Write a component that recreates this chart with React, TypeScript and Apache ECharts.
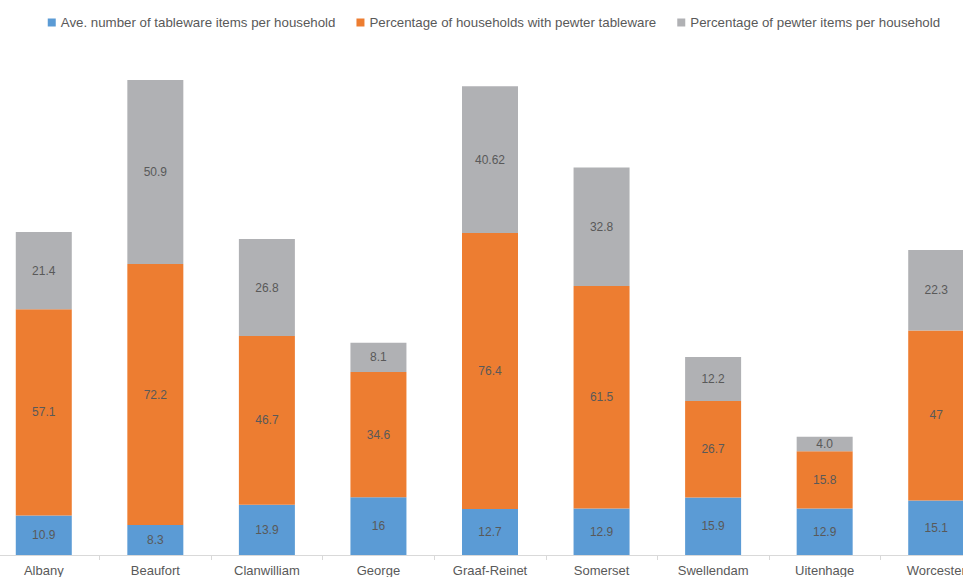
import React, { useEffect, useRef } from "react";
import * as echarts from "echarts";

const categories = ["Albany", "Beaufort", "Clanwilliam", "George", "Graaf-Reinet", "Somerset", "Swellendam", "Uitenhage", "Worcester"];
const seriesNames = [
  "Ave. number of tableware items per household",
  "Percentage of households with pewter tableware",
  "Percentage of pewter items per household",
];
const aveItems = [10.9, 8.3, 13.9, 16, 12.7, 12.9, 15.9, 12.9, 15.1];
const aveItemsLabels = ["10.9", "8.3", "13.9", "16", "12.7", "12.9", "15.9", "12.9", "15.1"];
const pctHouseholds = [57.1, 72.2, 46.7, 34.6, 76.4, 61.5, 26.7, 15.8, 47];
const pctHouseholdsLabels = ["57.1", "72.2", "46.7", "34.6", "76.4", "61.5", "26.7", "15.8", "47"];
const pctPewter = [21.4, 50.9, 26.8, 8.1, 40.62, 32.8, 12.2, 4.0, 22.3];
const pctPewterLabels = ["21.4", "50.9", "26.8", "8.1", "40.62", "32.8", "12.2", "4.0", "22.3"];
const colors = ["#5B9BD5", "#ED7D31", "#B0B1B4"];

export default function App() {
  const ref = useRef<HTMLDivElement>(null);
  useEffect(() => {
    if (!ref.current) return;
    const chart = echarts.init(ref.current, null, { renderer: "svg" });
    const font = "'Liberation Sans', Arial, sans-serif";
    const mk = (i: number, data: number[], labels: string[]) => ({
      name: seriesNames[i],
      type: "bar",
      stack: "total",
      data,
      barWidth: 56,
      itemStyle: { color: colors[i] },
      label: {
        show: true,
        position: "inside",
        color: "#595959",
        fontSize: 12,
        fontFamily: font,
        formatter: (p: any) => labels[p.dataIndex],
      },
    });
    chart.setOption({
      animation: false,
      textStyle: { fontFamily: font },
      legend: {
        top: 11,
        left: 54.75,
        itemWidth: 8,
        itemHeight: 8,
        itemGap: 21,
        icon: "rect",
        textStyle: { color: "#595959", fontSize: 13.3, fontFamily: font },
      },
      grid: { left: 0, right: 0, top: 49, bottom: 22, containLabel: false },
      xAxis: {
        type: "category",
        data: categories,
        axisLine: { lineStyle: { color: "#D9D9D9" } },
        axisTick: { show: true, length: 5, lineStyle: { color: "#D9D9D9" } },
        axisLabel: { color: "#595959", fontSize: 13, margin: 9, fontFamily: font },
      },
      yAxis: { type: "value", min: 0, max: 140, show: false, splitLine: { show: false } },
      series: [
        mk(0, aveItems, aveItemsLabels),
        mk(1, pctHouseholds, pctHouseholdsLabels),
        mk(2, pctPewter, pctPewterLabels),
      ],
    });
    return () => chart.dispose();
  }, []);
  return (
    <div style={{ position: "fixed", left: 0, top: 0, width: 963, height: 577, overflow: "hidden", background: "#fff" }}>
      <div ref={ref} style={{ position: "absolute", left: -11.75, top: 0, width: 1003.5, height: 577 }} />
    </div>
  );
}
